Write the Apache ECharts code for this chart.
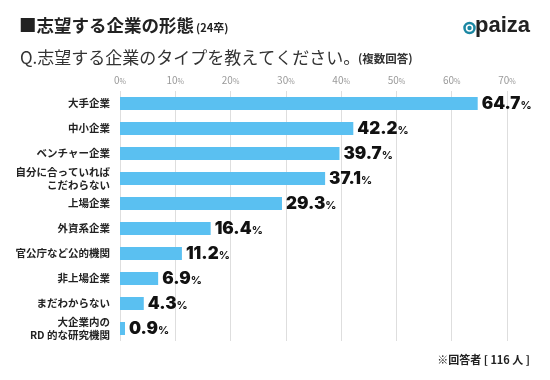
<!DOCTYPE html>
<html><head><meta charset="utf-8">
<script src="https://cdn.jsdelivr.net/npm/echarts@6/dist/echarts.min.js"></script>
<style>html,body{margin:0;padding:0;background:#fff}#c{width:550px;height:380px}</style>
</head><body><div id="c"></div>
<script>
const categories = ['大手企業','中小企業','ベンチャー企業','自分に合っていれば\nこだわらない','上場企業','外資系企業','官公庁など公的機関','非上場企業','まだわからない','大企業内の\nRD 的な研究機関'];
const values = [64.7, 42.2, 39.7, 37.1, 29.3, 16.4, 11.2, 6.9, 4.3, 0.9];
const tickValues = [0,10,20,30,40,50,60,70];
const titleText = '■志望する企業の形態';
const titleSub = '(24卒)';
const questionText = 'Q.志望する企業のタイプを教えてください。';
const questionSub = '(複数回答)';
const footnote = '※回答者 [ 116 人 ]';

const JP = '"Noto Sans CJK JP", "Noto Sans", sans-serif';
const chart = echarts.init(document.getElementById('c'));
chart.setOption({
  animation: false,
  backgroundColor: '#fff',
  grid: {left: 120, right: 43, top: 91, height: 250, containLabel: false},
  xAxis: {
    type: 'value', position: 'top', min: 0, max: 70, interval: 10,
    axisLine: {show: false}, axisTick: {show: false},
    splitLine: {show: true, lineStyle: {color: '#dedede', width: 1}},
    axisLabel: {
      margin: 6,
      formatter: v => '{n|' + v + '}{p|%}',
      rich: {
        n: {fontSize: 10, color: '#9a9a9a', fontFamily: JP},
        p: {fontSize: 7, color: '#9a9a9a', fontFamily: JP, verticalAlign: 'bottom'}
      }
    }
  },
  yAxis: {
    type: 'category', data: categories, inverse: true,
    axisLine: {show: false}, axisTick: {show: false},
    axisLabel: {color: '#222', fontSize: 10.5, fontWeight: 'bold', fontFamily: JP, margin: 10, lineHeight: 13, align: 'right'}
  },
  series: [{
    type: 'bar', data: values, barWidth: 13,
    itemStyle: {color: '#5ac0f1'},
    label: {
      show: true, position: 'right', distance: 4,
      formatter: p => '{n|' + p.value.toFixed(1) + '}{p|%}',
      rich: {
        n: {fontSize: 17, fontWeight: 900, color: '#111', fontFamily: 'Inter, "Liberation Sans", sans-serif'},
        p: {fontSize: 11, fontWeight: 'bold', color: '#111', fontFamily: 'Inter, "Liberation Sans", sans-serif', verticalAlign: 'bottom', padding: [0,0,1,0]}
      }
    }
  }],
  graphic: [
    {type: 'text', left: 19, top: 17, style: {text: titleText, font: 'bold 17.5px ' + JP, fill: '#222'}},
    {type: 'text', left: 196, top: 22, style: {text: titleSub, font: 'bold 11px ' + JP, fill: '#222'}},
    {type: 'text', left: 20, top: 49, style: {text: questionText, font: '17px ' + JP, fill: '#333'}},
    {type: 'text', left: 358, top: 53, style: {text: questionSub, font: 'bold 11.5px ' + JP, fill: '#333'}},
    {type: 'circle', shape: {cx: 469.5, cy: 28, r: 5}, style: {fill: '#fff', stroke: '#1b87a3', lineWidth: 2.5}},
    {type: 'circle', shape: {cx: 469.5, cy: 28, r: 2.2}, style: {fill: '#1b87a3'}},
    {type: 'text', left: 475, top: 15, style: {text: 'paiza', font: 'bold 22px "Liberation Sans", sans-serif', fill: '#222'}},
    {type: 'text', right: 20, top: 354, style: {text: footnote, font: 'bold 11px ' + JP, fill: '#222', align: 'right'}}
  ]
});
</script></body></html>
